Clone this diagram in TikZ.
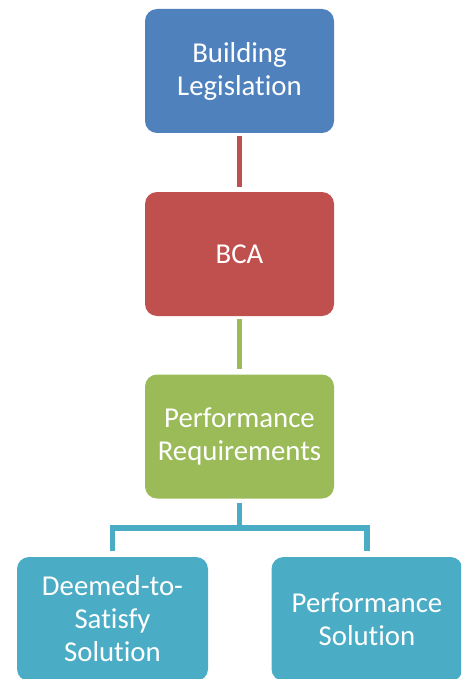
\documentclass[tikz,border=0pt]{standalone}
\usepackage{fontspec}
\setmainfont{Carlito}[Ligatures={NoCommon}]
\definecolor{lvblue}{HTML}{4F81BD}
\definecolor{lvred}{HTML}{C0504D}
\definecolor{lvgreen}{HTML}{9BBB59}
\definecolor{lvteal}{HTML}{4BACC6}
\usetikzlibrary{positioning}

\begin{document}
\begin{tikzpicture}[x=1pt,y=-1pt,
  lv/.style={rounded corners=12pt,minimum width=189pt,minimum height=124pt,inner sep=2pt,
    align=center,text=white,font=\fontsize{28.8}{33}\selectfont},
  link/.style={line width=5.5pt,shorten <=3pt,shorten >=5pt}]
  \useasboundingbox (0,0) rectangle (461,679);
  \clip (0,0) rectangle (461,679);
  % chain of levels
  \node[lv,fill=lvblue]  (leg) at (239.5,71)    {Building\\Legislation};
  \node[lv,fill=lvred]   (bca) at (239.5,254)   {BCA};
  \node[lv,fill=lvgreen] (req) at (239.5,436.5) {Performance\\Requirements};
  % the two ways to comply
  \node[lv,fill=lvteal,minimum width=191pt] (dts) at (112.5,619) {Deemed-to-\\Satisfy\\Solution};
  \node[lv,fill=lvteal,minimum width=191pt] (sol) at (367,619) {Performance\\Solution};
  \draw[link,lvred]   (leg) -- (bca);
  \draw[link,lvgreen] (bca) -- (req);
  \coordinate (fork) at (239.5,528);
  \draw[lvteal,line width=5.5pt,shorten <=4pt] (req.south) -- (fork);
  \draw[lvteal,line width=5.5pt,shorten >=6pt] (fork) -| (dts.north);
  \draw[lvteal,line width=5.5pt,shorten >=6pt] (fork) -| (sol.north);
\end{tikzpicture}
\end{document}
